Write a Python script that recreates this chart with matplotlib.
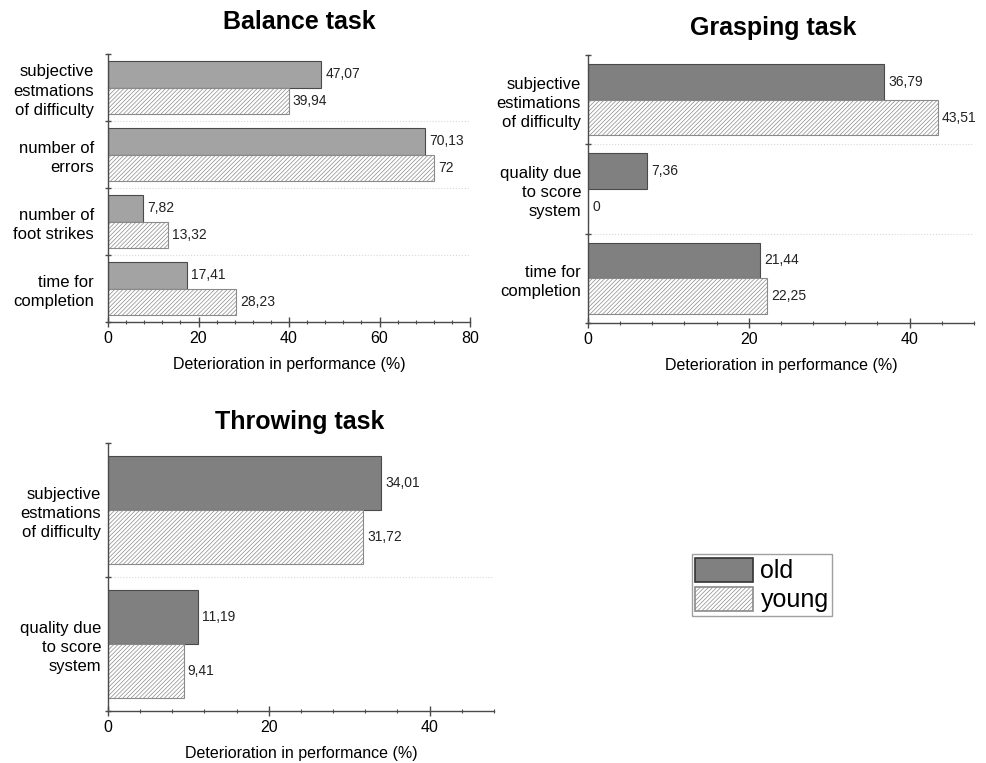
import numpy as np
import matplotlib
matplotlib.use("Agg")
import matplotlib.pyplot as plt
from matplotlib.patches import Patch
from matplotlib.ticker import MultipleLocator, FixedLocator

plt.rcParams['font.family'] = ['Liberation Sans', 'DejaVu Sans']
plt.rcParams['hatch.linewidth'] = 0.5

# balance task
balance_cats = ['subjective\nestmations\nof difficulty', 'number of\nerrors',
                'number of\nfoot strikes', 'time for\ncompletion']
balance_old = [47.07, 70.13, 7.82, 17.41]
balance_young = [39.94, 72, 13.32, 28.23]

# grasping task
grasp_cats = ['subjective\nestimations\nof difficulty', 'quality due\nto score\nsystem',
              'time for\ncompletion']
grasp_old = [36.79, 7.36, 21.44]
grasp_young = [43.51, 0, 22.25]

# throwing task
throw_cats = ['subjective\nestmations\nof difficulty', 'quality due\nto score\nsystem']
throw_old = [34.01, 11.19]
throw_young = [31.72, 9.41]

W, H = 987, 763
EDGE = '#4a4a4a'
HATCH = '#8a8a8a'
HATCH_PAT = '////////'


def fmt(v):
    if float(v).is_integer():
        return str(int(v))
    return f"{v:.2f}".replace('.', ',')


def panel(ax, cats, old, young, xmax, xstep, old_color, pad):
    n = len(cats)
    y = np.arange(n)
    h = 0.4
    b1 = ax.barh(y - h / 2, old, height=h, color=old_color, edgecolor=EDGE, lw=0.8)
    b2 = ax.barh(y + h / 2, young, height=h, color='white', edgecolor=HATCH,
                 hatch=HATCH_PAT, lw=0.8)
    for bars, vals in ((b1, old), (b2, young)):
        for rect, v in zip(bars, vals):
            ax.annotate(fmt(v), (v, rect.get_y() + rect.get_height() / 2),
                        xytext=(3, 0), textcoords='offset points',
                        ha='left', va='center', fontsize=10, color='#222222')
    for k in range(1, n):
        ax.axhline(k - 0.5, color='#d8d8d8', lw=0.8, ls=':', zorder=0)
    ax.set_ylim(n - 0.5, -0.5)
    ax.set_xlim(0, xmax)
    ax.yaxis.set_major_locator(FixedLocator(np.arange(n + 1) - 0.5))
    ax.yaxis.set_minor_locator(FixedLocator(y))
    ax.set_yticklabels([], minor=False)
    ax.set_yticklabels(cats, minor=True, fontsize=12, ha='right',
                       multialignment='right', linespacing=1.35)
    ax.tick_params(axis='y', which='major', direction='inout', length=5,
                   width=1, color=EDGE)
    ax.tick_params(axis='y', which='minor', length=0, pad=pad)
    ax.xaxis.set_major_locator(MultipleLocator(xstep))
    ax.xaxis.set_minor_locator(MultipleLocator(xstep / 5))
    ax.tick_params(axis='x', which='major', direction='inout', length=7,
                   width=1, color=EDGE, labelsize=11.5, pad=3)
    ax.tick_params(axis='x', which='minor', direction='inout', length=3,
                   width=0.8, color=EDGE)
    for s in ('top', 'right'):
        ax.spines[s].set_visible(False)
    for s in ('left', 'bottom'):
        ax.spines[s].set_color(EDGE)
        ax.spines[s].set_linewidth(1)
    ax.set_xlabel('Deterioration in performance (%)', fontsize=11.5, labelpad=8)
    return b1, b2


fig = plt.figure(figsize=(W / 100, H / 100), dpi=100)

ax1 = fig.add_axes([108 / W, 1 - 322 / H, 362 / W, 268 / H])
ax2 = fig.add_axes([588 / W, 1 - 323 / H, 386 / W, 268 / H])
ax3 = fig.add_axes([108 / W, 1 - 711 / H, 386 / W, 268 / H])

panel(ax1, balance_cats, balance_old, balance_young, 80, 20, '#a3a3a3', 10)
panel(ax2, grasp_cats, grasp_old, grasp_young, 48, 20, '#808080', 5)
panel(ax3, throw_cats, throw_old, throw_young, 48, 20, '#808080', 5)

fig.text(299 / W, 1 - 22 / H, 'Balance task', ha='center', va='center',
         fontsize=18, fontweight='bold')
fig.text(773 / W, 1 - 28 / H, 'Grasping task', ha='center', va='center',
         fontsize=18, fontweight='bold')
fig.text(300 / W, 1 - 422 / H, 'Throwing task', ha='center', va='center',
         fontsize=18, fontweight='bold')

handles = [Patch(facecolor='#808080', edgecolor='#333333', lw=1.2),
           Patch(facecolor='white', edgecolor=HATCH, hatch=HATCH_PAT, lw=1.2)]
leg = fig.legend(handles, ['old', 'young'], loc='center',
                 bbox_to_anchor=(762 / W, 1 - 585 / H), fontsize=18,
                 frameon=True, fancybox=False, handlelength=2.3,
                 handleheight=1.15, labelspacing=0.12, borderpad=0.15,
                 handletextpad=0.3, borderaxespad=0)
leg.get_frame().set_edgecolor('#888888')
leg.get_frame().set_linewidth(1)

fig.savefig('out.png', dpi=100)
